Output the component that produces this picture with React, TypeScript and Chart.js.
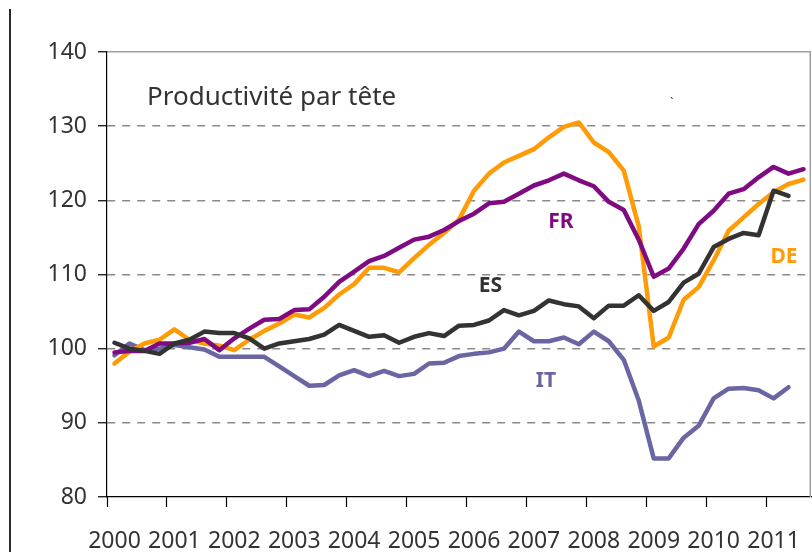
import React, { useEffect, useRef } from 'react';
import { Chart, registerables } from 'chart.js';

Chart.register(...registerables);

// ---- data ----
const years = ['2000', '2001', '2002', '2003', '2004', '2005', '2006', '2007', '2008', '2009', '2010', '2011'];
const quarters = ['T1', 'T2', 'T3', 'T4'];
const categories = years.flatMap((y) => quarters.map((q) => `${y} ${q}`)).slice(0, 47);

const deValues = [
  98.0, 99.6, 100.7, 101.2, 102.6, 101.2, 100.7, 100.4, 99.8, 101.2, 102.4, 103.4,
  104.6, 104.2, 105.5, 107.3, 108.7, 110.9, 110.9, 110.3, 112.2, 114.0, 115.6, 117.4,
  121.3, 123.6, 125.1, 126.0, 126.9, 128.5, 129.9, 130.5, 127.8, 126.5, 124.0, 116.5,
  100.3, 101.5, 106.6, 108.3, 111.9, 115.9, 117.7, 119.5, 121.1, 122.2, 122.8,
];
const frValues = [
  99.5, 99.7, 99.7, 100.7, 100.7, 100.8, 101.3, 99.8, 101.4, 102.7, 103.9, 104.0,
  105.2, 105.3, 107.0, 109.0, 110.4, 111.8, 112.5, 113.6, 114.7, 115.1, 116.0, 117.2,
  118.2, 119.6, 119.8, 120.9, 122.0, 122.7, 123.6, 122.7, 121.9, 119.8, 118.7, 114.7,
  109.7, 110.8, 113.5, 116.8, 118.6, 120.9, 121.5, 123.1, 124.5, 123.6, 124.2,
];
const esValues = [
  100.8, 100.0, 99.7, 99.3, 100.7, 101.2, 102.3, 102.1, 102.1, 101.4, 100.0, 100.7,
  101.0, 101.3, 101.9, 103.2, 102.4, 101.6, 101.8, 100.8, 101.6, 102.1, 101.7, 103.1,
  103.2, 103.8, 105.2, 104.5, 105.1, 106.5, 106.0, 105.7, 104.1, 105.8, 105.8, 107.2,
  105.1, 106.3, 108.9, 110.1, 113.7, 114.8, 115.6, 115.3, 121.3, 120.6, null,
];
const itValues = [
  99.1, 100.7, 99.8, 100.0, 100.5, 100.2, 99.9, 98.9, 98.9, 98.9, 98.9, 97.6,
  96.3, 95.0, 95.1, 96.4, 97.1, 96.3, 97.0, 96.3, 96.6, 98.0, 98.1, 99.0,
  99.3, 99.5, 100.0, 102.3, 101.0, 101.0, 101.5, 100.6, 102.3, 101.0, 98.5, 93.0,
  85.2, 85.2, 88.0, 89.6, 93.3, 94.6, 94.7, 94.4, 93.3, 94.8, null,
];
const yTicks = [80, 90, 100, 110, 120, 130, 140];
const seriesNames = ['ES', 'FR', 'DE', 'IT'];
const titleText = 'Productivité par tête';

// ---- styles ----
const COLORS: Record<string, string> = {
  DE: '#FF9B05',
  FR: '#7F0A82',
  ES: '#333333',
  IT: '#6A66A3',
};
const FONT = '"Noto Sans", "Open Sans", sans-serif';

// label anchors in data space (category index, value)
const labelAnchors: Record<string, { i: number; v: number; size: number }> = {
  FR: { i: 29.8, v: 117.1, size: 21 },
  DE: { i: 44.7, v: 112.3, size: 21 },
  ES: { i: 25.1, v: 108.4, size: 21 },
  IT: { i: 28.8, v: 95.7, size: 21 },
};

const decorPlugin = {
  id: 'decor',
  beforeDatasetsDraw(chart: any) {
    const { ctx, chartArea } = chart;
    ctx.save();
    ctx.strokeStyle = '#a0a0a0';
    ctx.lineWidth = 1.5;
    ctx.beginPath();
    ctx.moveTo(chartArea.right - 0.75, chartArea.top);
    ctx.lineTo(chartArea.right - 0.75, chartArea.bottom);
    ctx.stroke();
    ctx.restore();
  },
  afterDraw(chart: any) {
    const { ctx, chartArea, scales } = chart;
    const xs = scales.x;
    const ys = scales.y;
    ctx.save();
    // page edge line
    ctx.fillStyle = '#2a2a2a';
    ctx.fillRect(9, 9, 2, chart.height - 9);
    // title
    ctx.fillStyle = '#333333';
    ctx.font = `26px ${FONT}`;
    ctx.textAlign = 'left';
    ctx.textBaseline = 'alphabetic';
    ctx.fillText(titleText, chartArea.left + 40, chartArea.top + 53);
    // series labels
    ctx.textAlign = 'center';
    ctx.textBaseline = 'middle';
    for (const name of seriesNames) {
      const a = labelAnchors[name];
      ctx.fillStyle = COLORS[name];
      ctx.font = `bold ${a.size}px ${FONT}`;
      ctx.fillText(name, xs.getPixelForValue(a.i), ys.getPixelForValue(a.v));
    }
    // stray mark
    ctx.fillStyle = '#333333';
    ctx.font = `12px ${FONT}`;
    ctx.fillText('`', xs.getPixelForValue(37.2), ys.getPixelForValue(133.1));
    ctx.restore();
  },
};

export default function App() {
  const ref = useRef<HTMLCanvasElement | null>(null);
  useEffect(() => {
    if (!ref.current) return;
    const seriesData: Record<string, (number | null)[]> = {
      DE: deValues,
      FR: frValues,
      ES: esValues,
      IT: itValues,
    };
    const chart = new Chart(ref.current, {
      type: 'line',
      data: {
        labels: categories,
        datasets: seriesNames.map((name) => ({
          label: name,
          data: seriesData[name],
          borderColor: COLORS[name],
          backgroundColor: COLORS[name],
          borderWidth: 4.5,
          pointRadius: 0,
          tension: 0,
          borderJoinStyle: 'round' as const,
          borderCapStyle: 'round' as const,
          spanGaps: false,
        })),
      },
      options: {
        animation: false,
        responsive: false,
        devicePixelRatio: 1,
        layout: { padding: { top: 52, right: 1, left: 0, bottom: 0 } },
        plugins: { legend: { display: false }, tooltip: { enabled: false }, title: { display: false } },
        scales: {
          x: {
            type: 'category',
            offset: true,
            afterFit: (s: any) => {
              s.height = 55;
              s.paddingLeft = 0;
              s.paddingRight = 0;
            },
            grid: {
              offset: true,
              drawOnChartArea: false,
              drawTicks: true,
              tickLength: 10,
              tickWidth: 1.2,
              tickColor: (c: any) => (typeof c.index === 'number' && c.index % 4 === 0 ? '#000000' : 'rgba(0,0,0,0)'),
            },
            border: { display: true, color: '#000000', width: 1.2 },
            ticks: {
              autoSkip: false,
              maxRotation: 0,
              minRotation: 0,
              padding: 21,
              color: '#333333',
              font: { family: FONT, size: 23 },
              callback: (_v: any, idx: number) => (idx % 4 === 0 ? years[idx / 4] : ''),
            },
          },
          y: {
            min: yTicks[0],
            max: yTicks[yTicks.length - 1],
            afterFit: (s: any) => {
              s.width = 107;
            },
            afterBuildTicks: (s: any) => {
              s.ticks = yTicks.map((v) => ({ value: v }));
            },
            grid: {
              color: (c: any) => (c.tick && c.tick.value === yTicks[0] ? 'rgba(0,0,0,0)' : c.tick && c.tick.value === 140 ? '#a0a0a0' : '#8a8a8a'),
              lineWidth: 1.5,
              drawTicks: true,
              tickLength: 9,
              tickColor: '#000000',
              tickWidth: 1.2,
            },
            border: {
              display: true,
              color: '#000000',
              width: 1.2,
              dash: (c: any) => (c.tick && c.tick.value === 140 ? [] : [8, 7]),
            },
            ticks: {
              padding: 11,
              color: '#333333',
              font: { family: FONT, size: 23 },
            },
          },
        },
      },
      plugins: [decorPlugin],
    });
    return () => chart.destroy();
  }, []);
  return (
    <div style={{ position: 'fixed', left: 0, top: 0, width: 812, height: 552, background: '#ffffff' }}>
      <canvas ref={ref} width={812} height={552} style={{ display: 'block', width: 812, height: 552 }} />
    </div>
  );
}
